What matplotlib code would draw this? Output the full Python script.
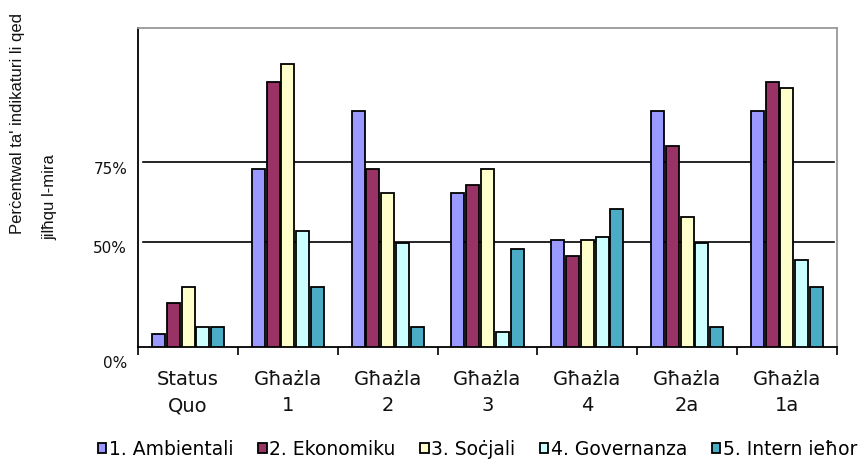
import numpy as np
import matplotlib
matplotlib.use('Agg')
import matplotlib.pyplot as plt
from matplotlib.transforms import ScaledTranslation

categories = ['Status\nQuo', 'Għażla\n1', 'Għażla\n2', 'Għażla\n3',
              'Għażla\n4', 'Għażla\n2a', 'Għażla\n1a']
series_names = ['1. Ambientali', '2. Ekonomiku', '3. Soċjali',
                '4. Governanza', '5. Intern ieħor']
ambientali = [6.0, 72.8, 84.5, 65.4, 50.5, 84.5, 84.5]
ekonomiku = [20.7, 90.0, 72.8, 67.8, 43.2, 78.1, 90.0]
socjali = [28.6, 93.3, 65.4, 72.8, 50.5, 57.9, 88.9]
governanza = [9.2, 53.5, 49.2, 6.9, 51.6, 49.5, 41.3]
intern = [9.2, 28.6, 9.2, 46.4, 60.2, 9.2, 28.6]
ytick_values = [0, 50, 75]
ytick_labels = ['0%', '50%', '75%']
ylabel_lines = ["Perċentwal ta' indikaturi li qed", "jilħqu l-mira"]

series = [ambientali, ekonomiku, socjali, governanza, intern]
colors = ['#9999FF', '#993366', '#FFFFCC', '#CCFFFF', '#4BACC6']

W, H = 868, 459
fig = plt.figure(figsize=(W / 100, H / 100), dpi=100)
ax = fig.add_axes([138.3 / W, 1 - 346.7 / H, (836.7 - 138.3) / W, (346.7 - 28.3) / H])

# non-uniform value axis as in the original chart
sv = [-100, 0, 50, 75, 100, 200]
sp = [-210, 0, 105, 184.4, 318.4, 854.4]
def fwd(v):
    return np.interp(v, sv, sp)
def inv(p):
    return np.interp(p, sp, sv)
ax.set_yscale('function', functions=(fwd, inv))

x = np.arange(len(categories))
pitch = 0.148
width = 0.13
handles = []
for i, (vals, c) in enumerate(zip(series, colors)):
    b = ax.bar(x + (i - 2) * pitch, vals, width=width, color=c,
               edgecolor='black', linewidth=1.3, zorder=3)
    handles.append(b)

for v in [50, 75]:
    ax.axhline(v, xmin=0.007, xmax=0.996, color='black', lw=1.2, zorder=2)

ax.set_xlim(-0.5, len(categories) - 0.5)
ax.set_ylim(0, 100)

for s in ['left', 'bottom']:
    ax.spines[s].set_color('black')
    ax.spines[s].set_linewidth(1.3)
for s in ['top', 'right']:
    ax.spines[s].set_color('#999999')
    ax.spines[s].set_linewidth(1.3)

ax.set_xticks(x, categories)
ax.set_xticks(np.arange(-0.5, len(categories), 1), minor=True)
ax.tick_params(axis='x', which='major', length=0, pad=17, labelsize=14,
               labelcolor='#111111')
ax.tick_params(axis='x', which='minor', length=6, width=1.2, direction='out',
               color='black')
for lbl in ax.get_xticklabels():
    lbl.set_linespacing(1.45)

ax.set_yticks(ytick_values, ytick_labels)
ax.yaxis.set_minor_locator(matplotlib.ticker.NullLocator())
ax.tick_params(axis='y', length=0, pad=8, labelsize=11, labelcolor='#111111')
for lbl, dy in zip(ax.get_yticklabels(), [15, 5, 6]):
    lbl.set_transform(lbl.get_transform() +
                      ScaledTranslation(0, -dy / 100, fig.dpi_scale_trans))

fig.text(18 / W, 1 - 234 / H, ylabel_lines[0], rotation=90, ha='center',
         va='bottom', fontsize=12, family='Liberation Sans', color='#111111')
fig.text(50 / W, 1 - 240 / H, ylabel_lines[1], rotation=90, ha='center',
         va='bottom', fontsize=12, family='Liberation Sans', color='#111111')

fig.legend(handles, series_names, ncol=5, loc='lower left',
           bbox_to_anchor=(98 / W, 0), frameon=False, fontsize=13.5,
           handlelength=0.45, handleheight=0.45, handletextpad=0.15,
           columnspacing=1.3, borderpad=0, borderaxespad=0)

fig.savefig('out.png', dpi=100)
